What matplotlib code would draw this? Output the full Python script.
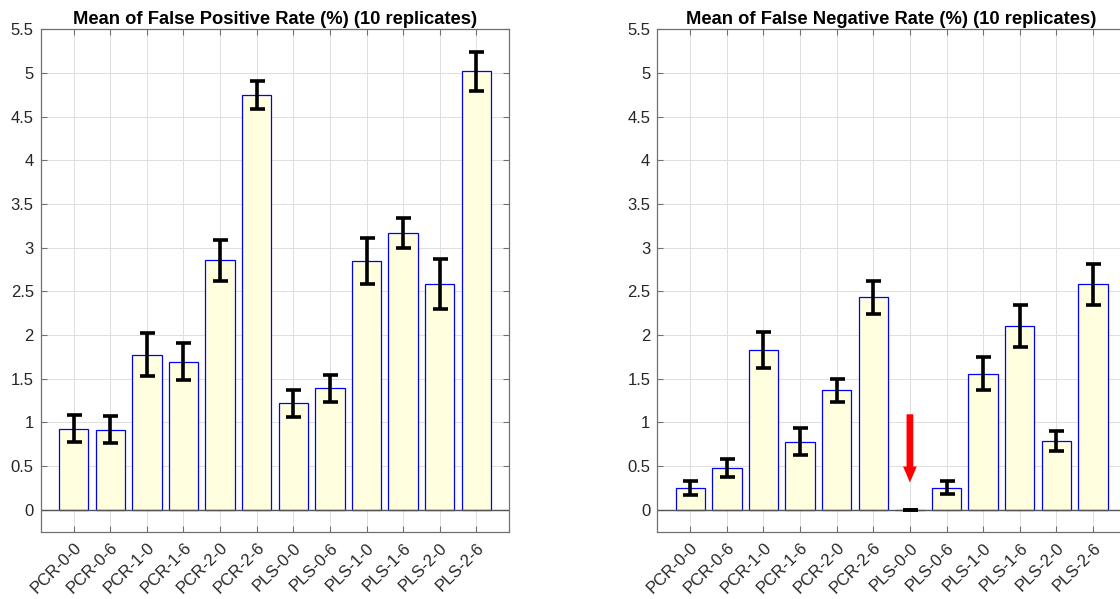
import matplotlib
matplotlib.use("Agg")
import matplotlib.pyplot as plt
import matplotlib.transforms as mtransforms
from matplotlib.patches import FancyArrow
import numpy as np

plt.rcParams['font.family'] = ['Liberation Sans', 'DejaVu Sans']

categories = ["PCR-0-0", "PCR-0-6", "PCR-1-0", "PCR-1-6", "PCR-2-0", "PCR-2-6",
              "PLS-0-0", "PLS-0-6", "PLS-1-0", "PLS-1-6", "PLS-2-0", "PLS-2-6"]
fpr_mean = [0.93, 0.918, 1.777, 1.697, 2.854, 4.745, 1.218, 1.393, 2.85, 3.174, 2.584, 5.019]
fpr_err = [0.155, 0.152, 0.248, 0.208, 0.233, 0.16, 0.158, 0.153, 0.262, 0.172, 0.285, 0.223]
fnr_mean = [0.251, 0.48, 1.831, 0.78, 1.37, 2.432, 0.0, 0.251, 1.56, 2.108, 0.788, 2.58]
fnr_err = [0.078, 0.1, 0.21, 0.156, 0.133, 0.19, 0.0, 0.075, 0.19, 0.24, 0.12, 0.23]
yticks = [0, 0.5, 1, 1.5, 2, 2.5, 3, 3.5, 4, 4.5, 5, 5.5]
ytick_labels = ["0", "0.5", "1", "1.5", "2", "2.5", "3", "3.5", "4", "4.5", "5", "5.5"]
titles = ["Mean of False Positive Rate (%) (10 replicates)",
          "Mean of False Negative Rate (%) (10 replicates)"]

fig = plt.figure(figsize=(11.2, 5.99), dpi=100)
W, H = 1120, 599
ax_w = 468.6 / W
ax_b = 1 - 531.7 / H
ax_h = (531.7 - 29.3) / H
axes = [fig.add_axes([40.7 / W, ax_b, ax_w, ax_h]),
        fig.add_axes([657.3 / W, ax_b, ax_w, ax_h])]

spine_col = '#707070'
text_col = '#262626'
x = np.arange(1, len(categories) + 1)

for ax, means, errs, title in zip(axes, [fpr_mean, fnr_mean], [fpr_err, fnr_err], titles):
    ax.set_axisbelow(True)
    ax.bar(x, means, width=0.8, color=(1, 1, 0.88), edgecolor=(0, 0, 1), linewidth=0.9, zorder=2)
    ax.errorbar(x, means, yerr=errs, fmt='none', ecolor='black', elinewidth=2.6,
                capsize=5.4, capthick=2.6, zorder=3)
    ax.axhline(0, color='#555555', linewidth=1.0, zorder=2.5)
    ax.set_xlim(0.1, 12.9)
    ax.set_ylim(-0.25, 5.5)
    ax.set_yticks(yticks)
    ax.set_yticklabels(ytick_labels)
    ax.set_xticks(x)
    ax.set_xticklabels(categories, rotation=45, ha='right', va='top', rotation_mode='anchor')
    offset = mtransforms.ScaledTranslation(15 / 100, 0, fig.dpi_scale_trans)
    for lab in ax.get_xticklabels():
        lab.set_transform(lab.get_transform() + offset)
    ax.grid(True, color='#dedede', linewidth=0.7)
    ax.tick_params(axis='both', direction='in', length=4, width=0.8, colors=spine_col,
                   labelcolor=text_col, labelsize=12, top=True, right=True)
    ax.tick_params(axis='y', pad=5)
    ax.tick_params(axis='x', pad=6)
    for s in ax.spines.values():
        s.set_color(spine_col)
        s.set_linewidth(0.9)
    ax.set_title(title, fontsize=13.2, fontweight='bold', color='black', pad=4)

# red arrow pointing at the zero-height PLS-0-0 bar
arrow = FancyArrow(7, 1.094, 0, -0.781, width=0.183, head_width=0.374, head_length=0.183,
                   length_includes_head=True, color='red', linewidth=0, zorder=4)
axes[1].add_patch(arrow)

fig.savefig("out.png", dpi=100)
